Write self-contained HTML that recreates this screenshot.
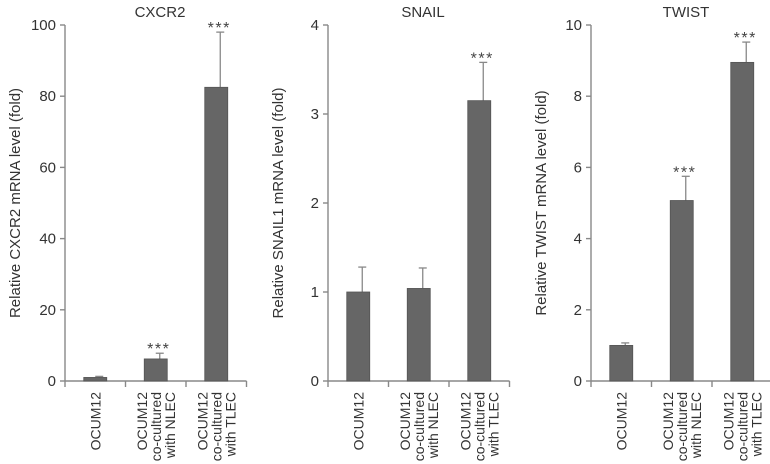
<!DOCTYPE html>
<html><head><meta charset="utf-8"><style>
body{margin:0;background:#fff}
svg{display:block;font-family:"Liberation Sans",Arial,sans-serif}
</style></head><body>
<svg id="c" width="770" height="464"></svg>
<script>
const titles=["CXCR2","SNAIL","TWIST"];
const yTitles=["Relative CXCR2 mRNA level (fold)","Relative SNAIL1 mRNA level (fold)","Relative TWIST mRNA level (fold)"];
const categories=[["OCUM12"],["OCUM12","co-cultured","with NLEC"],["OCUM12","co-cultured","with TLEC"]];
const cxcr2Values=[1,6.2,82.5];
const cxcr2Errors=[0.3,1.6,15.5];
const snailValues=[1.0,1.04,3.15];
const snailErrors=[0.28,0.23,0.43];
const twistValues=[1.0,5.07,8.95];
const twistErrors=[0.07,0.68,0.57];
const yMax=[100,4,10];
const yTicks=[[0,20,40,60,80,100],[0,1,2,3,4],[0,2,4,6,8,10]];
const sig=[[false,true,true],[false,false,true],[false,true,true]];
const values=[cxcr2Values,snailValues,twistValues];
const errors=[cxcr2Errors,snailErrors,twistErrors];
const axisX=[65,328,591];
const names=["cxcr2","snail","twist"];
const svg=document.getElementById('c');const NS="http://www.w3.org/2000/svg";
function mk(t,a,p){const e=document.createElementNS(NS,t);for(const k in a)e.setAttribute(k,a[k]);(p||svg).appendChild(e);return e;}
const y0=381,yTop=25,step=60.5,bw=23;
for(let p=0;p<3;p++){
  const ax=axisX[p];
  const g=mk('g',{});
  
  
  const ys=v=>y0-(v/yMax[p])*(y0-yTop);
  const t=mk('text',{x:ax+95,y:17,'text-anchor':'middle','font-size':15,fill:'#333'},g);t.textContent=titles[p];
  
  
  const yt=mk('text',{transform:`translate(${ax-45},${(y0+yTop)/2}) rotate(-90)`,'text-anchor':'middle','font-size':15,fill:'#333'},g);yt.textContent=yTitles[p];
  
  
  mk('line',{x1:ax,y1:yTop,x2:ax,y2:y0,stroke:'#888','stroke-width':1.4},g);
  mk('line',{x1:ax,y1:y0,x2:ax+3*step,y2:y0,stroke:'#888','stroke-width':1.4},g);
  yTicks[p].forEach(v=>{
    const y=ys(v);
    mk('line',{x1:ax-5,y1:y,x2:ax,y2:y,stroke:'#888','stroke-width':1.4},g);
    const l=mk('text',{x:ax-9,y:y+5,'text-anchor':'end','font-size':15,fill:'#333'},g);l.textContent=v;
    
    
  });
  for(let i=0;i<=3;i++){mk('line',{x1:ax+i*step,y1:y0,x2:ax+i*step,y2:y0+6,stroke:'#888','stroke-width':1.4},g);}
  values[p].forEach((v,i)=>{
    const cx=ax+step*(i+0.5);
    const ey=ys(v+errors[p][i]);
    mk('line',{x1:cx+4,y1:ys(v),x2:cx+4,y2:ey,stroke:'#888','stroke-width':1.3},g);
    mk('line',{x1:cx,y1:ey,x2:cx+8,y2:ey,stroke:'#888','stroke-width':1.3},g);
    const b=mk('rect',{x:cx-bw/2,y:ys(v),width:bw,height:y0-ys(v),fill:'#666',stroke:'#555','stroke-width':0.8},g);
    
    
    if(sig[p][i]){const s=mk('text',{x:cx+3,y:ey+1,'text-anchor':'middle','font-size':16,'letter-spacing':1.5,fill:'#444'},g);s.textContent='***';
      
      }
    const lines=categories[i];
    lines.forEach((ln,k)=>{
      const off=(k-(lines.length-1)/2)*14;
      const tx=mk('text',{transform:`translate(${cx+off+5},${y0+11}) rotate(-90)`,'text-anchor':'end','font-size':14,fill:'#333'},g);tx.textContent=ln;
      
      
    });
  });
}
</script>
</body></html>
